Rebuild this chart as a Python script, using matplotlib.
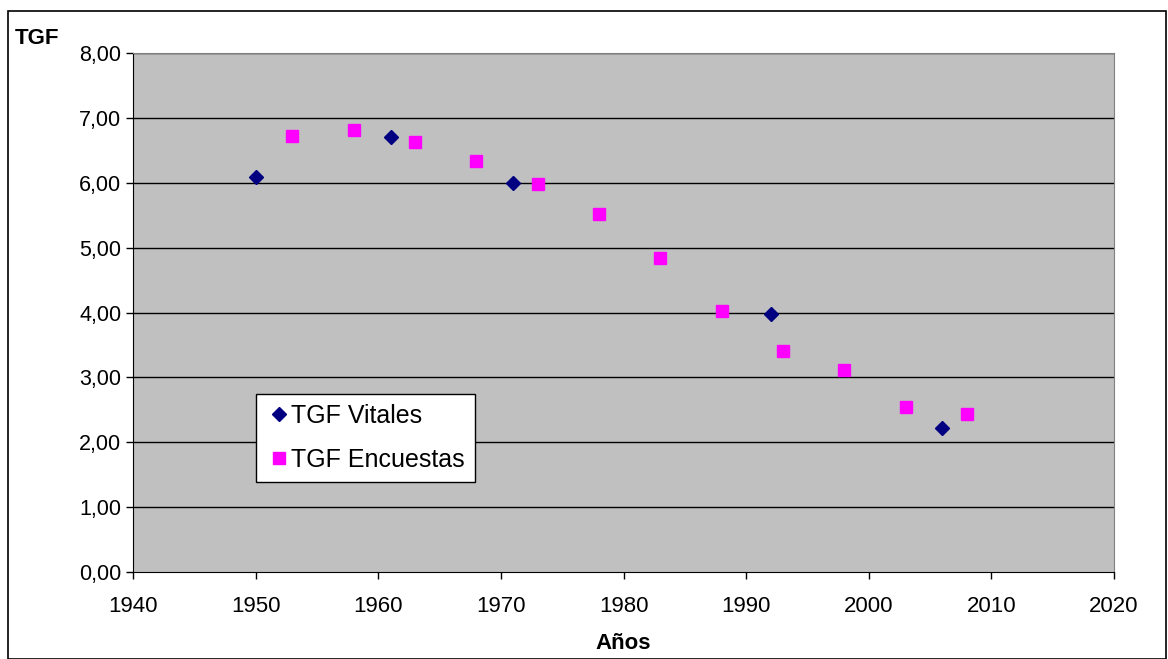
import matplotlib
matplotlib.use("Agg")
from matplotlib import pyplot as plt
from matplotlib.patches import Rectangle
from matplotlib.ticker import FuncFormatter

plt.rcParams['font.family'] = ['Liberation Sans', 'DejaVu Sans']

# TGF from vital statistics
vitales_anio = [1950, 1961, 1971, 1992, 2006]
vitales_tgf = [6.09, 6.71, 6.00, 3.97, 2.22]

# TGF from surveys
encuestas_anio = [1953, 1958, 1963, 1968, 1973, 1978, 1983, 1988, 1993, 1998, 2003, 2008]
encuestas_tgf = [6.72, 6.82, 6.63, 6.34, 5.98, 5.52, 4.84, 4.02, 3.40, 3.11, 2.55, 2.43]

fig = plt.figure(figsize=(11.68, 6.59), dpi=100)
ax = fig.add_axes([133/1168, 87/659, 981/1168, 519/659])
ax.set_facecolor('#c0c0c0')

# outer frame of the chart
fig.patches.append(Rectangle((8/1168, 0), 1158/1168, 648/659, transform=fig.transFigure,
                             fill=False, edgecolor='black', linewidth=1.2))

for y in range(1, 9):
    ax.axhline(y, color='black', linewidth=1, zorder=1)

ax.plot(vitales_anio, vitales_tgf, 'D', color='#000080', markersize=7.5,
        linestyle='none', label='TGF Vitales', zorder=3)
ax.plot(encuestas_anio, encuestas_tgf, 's', color='#ff00ff', markersize=8.5,
        linestyle='none', label='TGF Encuestas', zorder=3)

ax.set_xlim(1940, 2020)
ax.set_ylim(0, 8)
ax.set_xticks(range(1940, 2021, 10))
ax.set_yticks(range(0, 9))
ax.yaxis.set_major_formatter(FuncFormatter(lambda v, p: "{:.2f}".format(v).replace('.', ',')))
ax.tick_params(direction='out', length=5, width=1, labelsize=15.5, color='black')
ax.tick_params(axis='x', pad=12, labelsize=16)

for s in ['left', 'bottom']:
    ax.spines[s].set_color('black')
for s in ['top', 'right']:
    ax.spines[s].set_color('#808080')

ax.set_xlabel('Años', fontsize=16, fontweight='bold', labelpad=12)
fig.text(15/1168, 1 - 38/659, 'TGF', fontsize=16, fontweight='bold', va='center', ha='left')

leg = ax.legend(loc='lower left', bbox_to_anchor=(0.1254, 0.1734), borderaxespad=0,
                fontsize=18, frameon=True, fancybox=False, edgecolor='black', framealpha=1,
                handletextpad=0.0, borderpad=0.4, labelspacing=0.8, handlelength=1.0)
leg.get_frame().set_linewidth(1)

fig.savefig('out.png', dpi=100)
